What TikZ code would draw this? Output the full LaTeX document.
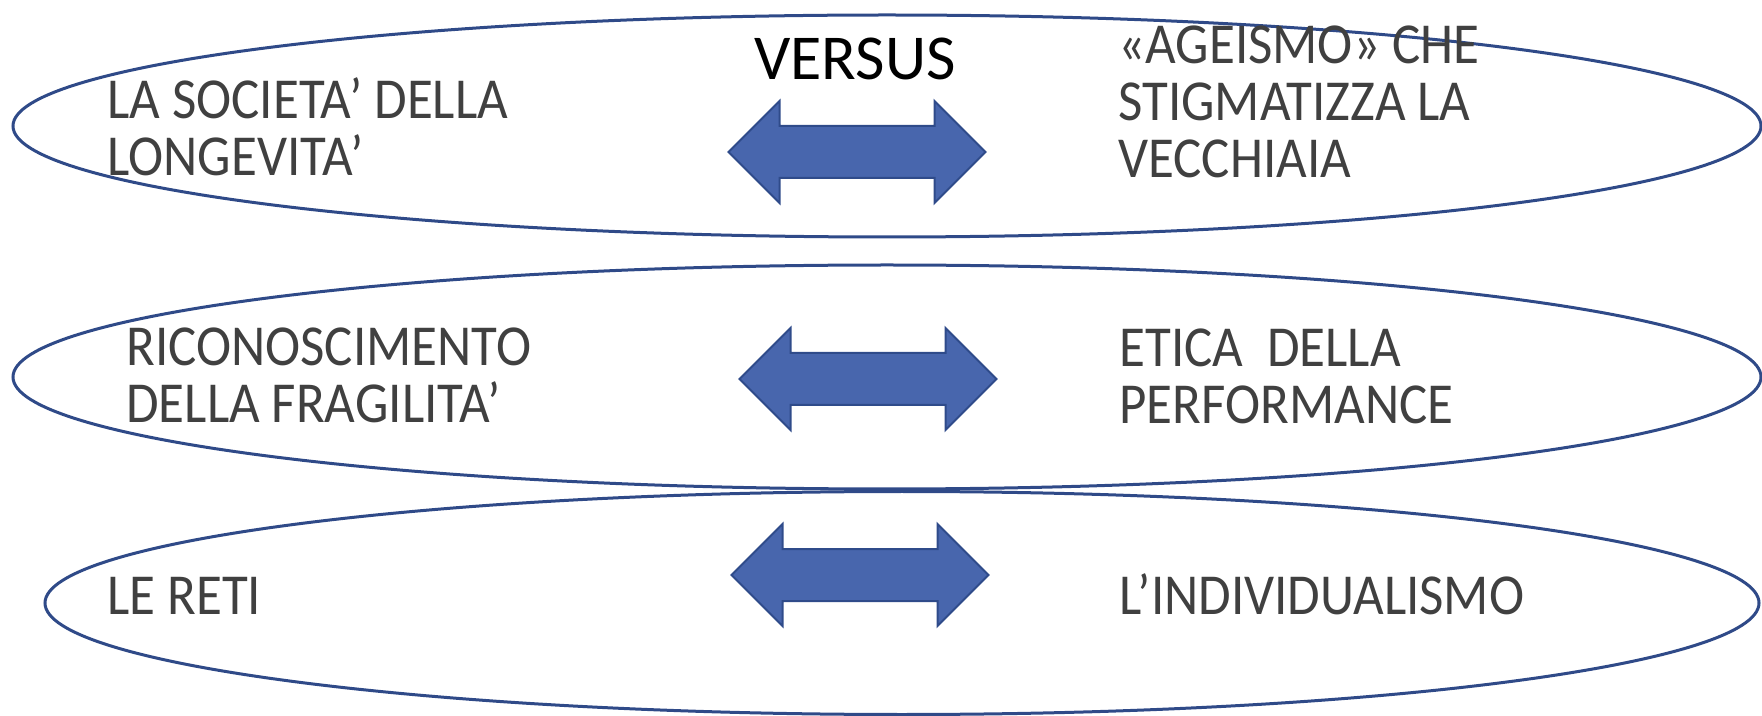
\documentclass[tikz,border=0pt]{standalone}
\usepackage{fontspec}
\setmainfont{Carlito}
\newfontfamily\sidefont{Carlito}[FakeStretch=0.913]
\usetikzlibrary{shapes.geometric,shapes.arrows}
\definecolor{ringblue}{HTML}{2F4A88}
\definecolor{arrowfill}{HTML}{4866AD}
\definecolor{arrowline}{HTML}{2F4B8A}
\definecolor{textgray}{HTML}{404040}
\tikzset{ band/.style={draw=ringblue, line width=1.5pt, ellipse, inner sep=0pt},
          vsarrow/.style={shape=double arrow, fill=arrowfill, draw=arrowline, line width=1pt,
                          inner sep=0pt, inner ysep=12.5pt, double arrow head extend=12.5pt,
                          minimum height=128.5pt},
          side/.style={anchor=base west, align=left, inner sep=0pt, text=textgray,
                       font=\sidefont\fontsize{29}{28.7}\selectfont} }

\begin{document}
\begin{tikzpicture}[x=0.5pt, y=-0.5pt]
        \useasboundingbox (0,0) rectangle (1762,716);
        \node[band, minimum width=874pt, minimum height=111pt] (ring1) at (887,126) {};
        \node[band, minimum width=874pt, minimum height=112pt] (ring2) at (887,377) {};
        \node[band, minimum width=857pt, minimum height=111.5pt] (ring3) at (902,603) {};

        \node[anchor=base, inner sep=0pt, font=\fontsize{32}{32}\selectfont] (vs) at (855,80) {VERSUS};

        \node[vsarrow] (arr1) at (857,152) {};
        \node[vsarrow] (arr2) at (868,379) {};
        \node[vsarrow] (arr3) at (860,575) {};

        % base anchor sits on the last line
        \node[side] (longev) at (107,176) {LA SOCIETA’ DELLA\\LONGEVITA’};
        \node[side] (ageism) at (1118,178) {«AGEISMO» CHE\\STIGMATIZZA LA\\VECCHIAIA};
        \node[side] (fragil) at (126,423) {RICONOSCIMENTO\\DELLA FRAGILITA’};
        \node[side] (perform) at (1119,424) {ETICA\ \ DELLA\\PERFORMANCE};
        \node[side] (reti) at (107,614) {LE RETI};
        \node[side] (indiv) at (1119,614) {L’INDIVIDUALISMO};
    \end{tikzpicture}
\end{document}
